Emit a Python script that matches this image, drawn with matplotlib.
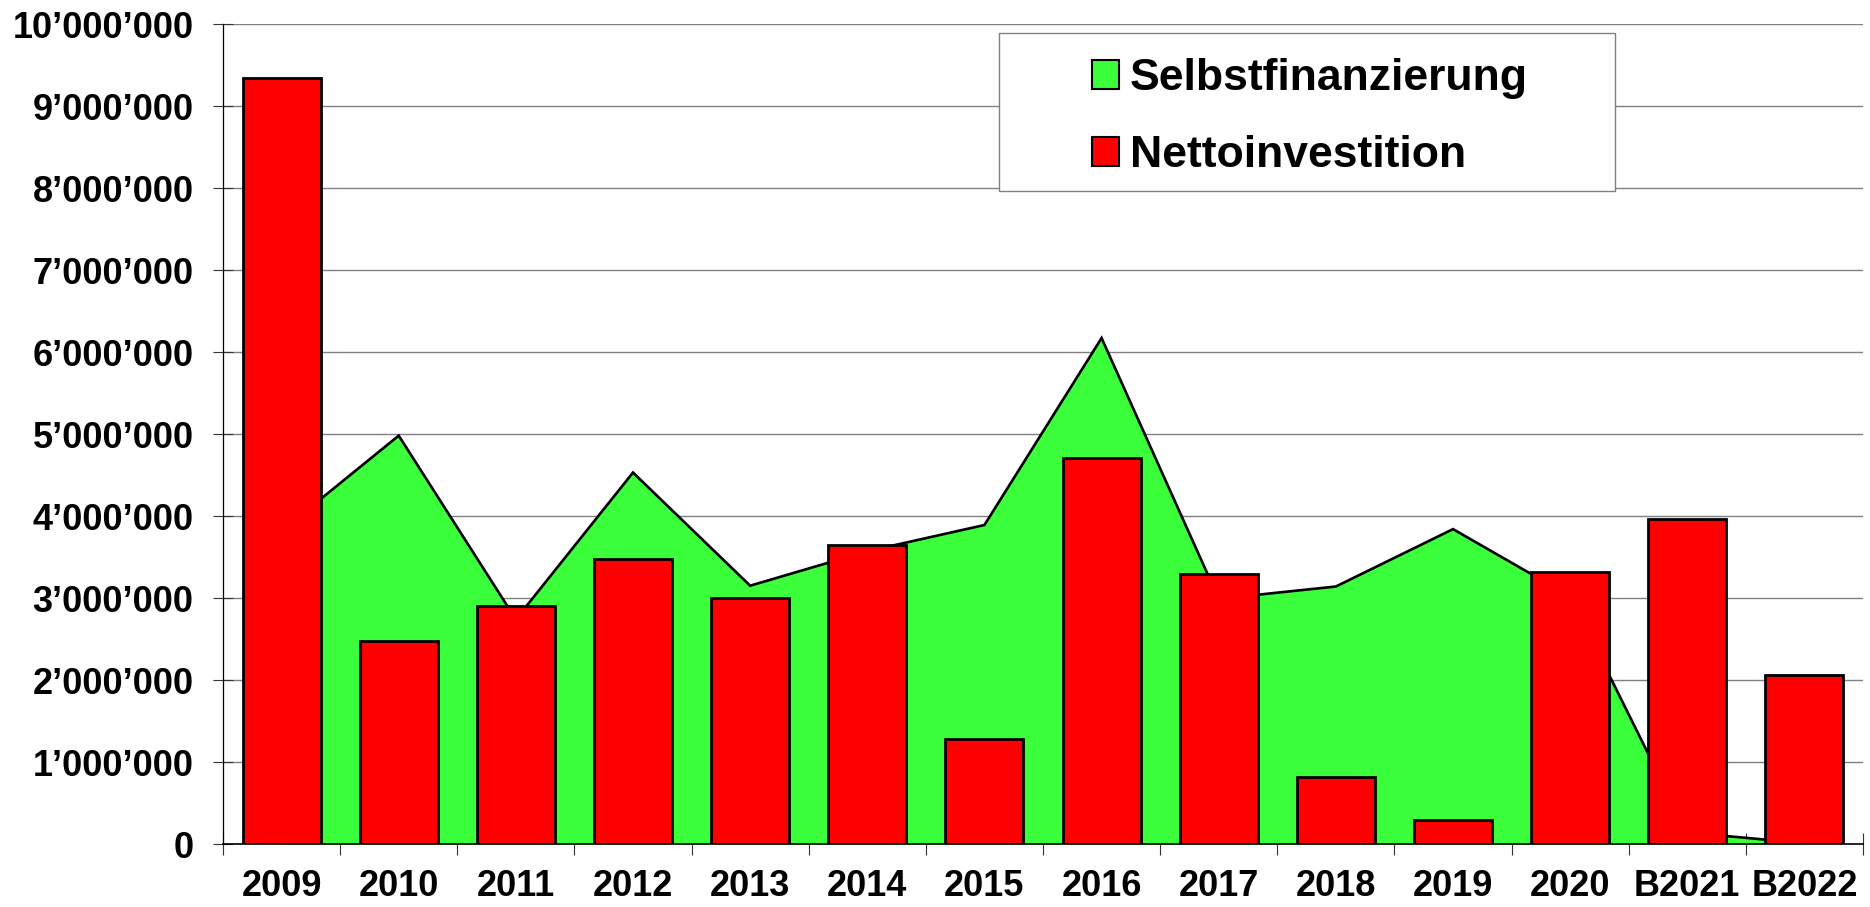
import matplotlib
matplotlib.use("Agg")
import matplotlib.pyplot as plt
from matplotlib.patches import Patch, Rectangle
from matplotlib.ticker import FuncFormatter, FixedLocator
import numpy as np

categories = ["2009", "2010", "2011", "2012", "2013", "2014", "2015",
              "2016", "2017", "2018", "2019", "2020", "B2021", "B2022"]
selbstfinanzierung = [3820000, 4980000, 2740000, 4530000, 3150000, 3570000, 3890000,
                      6170000, 2990000, 3140000, 3840000, 3020000, 140000, 10000]
nettoinvestition = [9340000, 2470000, 2900000, 3470000, 3000000, 3650000, 1280000,
                    4710000, 3290000, 820000, 290000, 3320000, 3960000, 2060000]
series_names = ["Selbstfinanzierung", "Nettoinvestition"]
yticks = [0, 1000000, 2000000, 3000000, 4000000, 5000000, 6000000,
          7000000, 8000000, 9000000, 10000000]

plt.rcParams['font.family'] = ['Liberation Sans', 'DejaVu Sans']
plt.rcParams['font.weight'] = 'bold'

GREEN = '#3AFF3A'
RED = '#FF0000'

fig = plt.figure(figsize=(18.7, 9.07), dpi=100)
ax = fig.add_axes([223/1870, 1 - 844/907, 1640/1870, 820/907])

x = np.arange(len(categories))
ax.fill_between(x, selbstfinanzierung, 0, color=GREEN, linewidth=0, zorder=1)
ax.plot(x, selbstfinanzierung, color='black', linewidth=1.9, zorder=1.5,
        solid_joinstyle='miter')
ax.bar(x, nettoinvestition, width=0.667, color=RED, edgecolor='black',
       linewidth=2.0, zorder=2)

ax.set_xlim(-0.5, len(categories) - 0.5)
ax.set_ylim(0, 10000000)

ax.set_yticks(yticks)
ax.yaxis.set_major_formatter(FuncFormatter(
    lambda v, p: "{:,}".format(int(round(v))).replace(",", "\u2019")))
ax.grid(axis='y', color='#808080', linewidth=1.0, zorder=0)
ax.set_axisbelow(True)

ax.xaxis.set_major_locator(FixedLocator(np.arange(-0.5, len(categories), 1.0)))
ax.xaxis.set_major_formatter(FuncFormatter(lambda v, p: ""))
ax.set_xticks(x, minor=True)
ax.set_xticklabels(categories, minor=True)

ax.tick_params(axis='x', which='major', direction='inout', length=15.8, width=0.8,
               color='#333333')
ax.tick_params(axis='x', which='minor', length=0, pad=18, labelsize=26)
ax.tick_params(axis='y', which='major', direction='inout', length=14.4, width=0.8,
               color='#333333', pad=14, labelsize=26)
for lab in ax.get_xticklabels(minor=True) + ax.get_yticklabels():
    lab.set_fontweight('bold')

for s in ['top', 'right']:
    ax.spines[s].set_visible(False)
ax.spines['left'].set_linewidth(0.9)
ax.spines['left'].set_color('black')
ax.spines['bottom'].set_linewidth(1.2)
ax.spines['bottom'].set_color('black')
ax.spines['bottom'].set_zorder(3)

# legend frame
box = Rectangle((999/1870, 1 - 191/907), (1615-999)/1870, (191-33)/907,
                transform=fig.transFigure, facecolor='white', edgecolor='#808080',
                linewidth=1.0, zorder=10)
fig.patches.append(box)

handles = [Patch(facecolor=GREEN, edgecolor='black', linewidth=1.5),
           Patch(facecolor=RED, edgecolor='black', linewidth=1.5)]
leg = fig.legend(handles, series_names, loc='center',
                 bbox_to_anchor=(1310/1870, 1 - 117/907),
                 frameon=False, prop={'size': 32, 'weight': 'bold'},
                 handlelength=0.61, handleheight=0.62, handletextpad=0.23,
                 labelspacing=0.8, borderpad=0.2)
leg.set_zorder(11)

fig.savefig("out.png", dpi=100)
